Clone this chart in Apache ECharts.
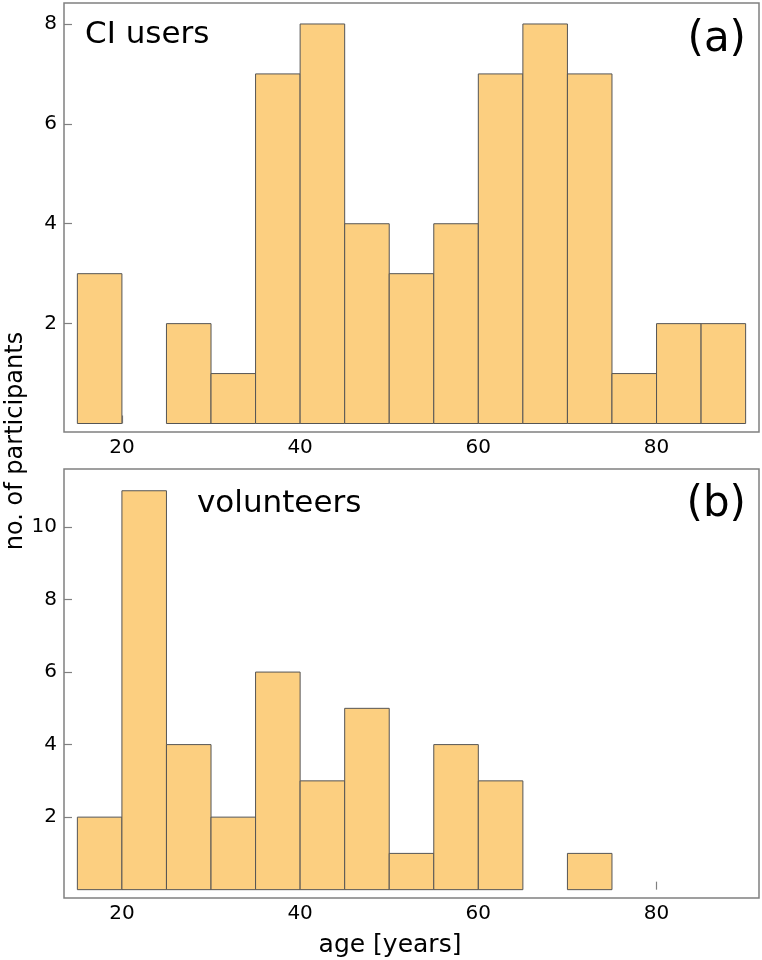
<!DOCTYPE html>
<html>
<head>
<meta charset="utf-8">
<script src="https://cdn.jsdelivr.net/npm/echarts@6/dist/echarts.min.js"></script>
<style>
  html, body { margin: 0; padding: 0; background: #fff; }
  #chart { width: 762px; height: 960px; }
</style>
</head>
<body>
<div id="chart"></div>
<script>
// bin edges (age, years)
const binEdges = [15, 20, 25, 30, 35, 40, 45, 50, 55, 60, 65, 70, 75, 80, 85, 90];
// counts per bin
const ciUsers = [3, 0, 2, 1, 7, 8, 4, 3, 4, 7, 8, 7, 1, 2, 2];
const volunteers = [2, 11, 4, 2, 6, 3, 5, 1, 4, 3, 0, 1, 0, 0, 0];
// tick labels
const xTicks = [20, 40, 60, 80];
const yTicksA = [2, 4, 6, 8];
const yTicksB = [2, 4, 6, 8, 10];

const FONT = 'DejaVu Sans';
const barFill = '#fccf80';
const barStroke = '#555555';
const frameColor = '#808080';

function toRows(counts) {
    const rows = [];
    counts.forEach((c, i) => {
        if (c > 0) rows.push([binEdges[i], binEdges[i + 1], c]);
    });
    return rows;
}

function renderItem(params, api) {
    const p0 = api.coord([api.value(0), 0]);
    const p1 = api.coord([api.value(1), api.value(2)]);
    return {
        type: 'rect',
        shape: { x: p0[0], y: p1[1], width: p1[0] - p0[0], height: p0[1] - p1[1] },
        style: { fill: barFill, stroke: barStroke, lineWidth: 1 }
    };
}

function xAxisFor(idx) {
    return {
        type: 'value', gridIndex: idx, min: 13.5, max: 91.5,
        axisLine: { show: false },
        splitLine: { show: false },
        axisTick: { inside: true, length: 8, customValues: xTicks, lineStyle: { color: frameColor, width: 1.2 } },
        axisLabel: { customValues: xTicks, margin: 6, fontFamily: FONT, fontSize: 20, color: '#000' }
    };
}

function yAxisFor(idx, min, max, ticks) {
    return {
        type: 'value', gridIndex: idx, min: min, max: max,
        axisLine: { show: false },
        splitLine: { show: false },
        axisTick: { inside: true, length: 8, customValues: ticks, lineStyle: { color: frameColor, width: 1.2 } },
        axisLabel: { customValues: ticks, margin: 7, fontFamily: FONT, fontSize: 20, color: '#000' }
    };
}

const chart = echarts.init(document.getElementById('chart'));
const option = {
    animation: false,
    grid: [
        { left: 64, top: 3, width: 695, height: 429, show: true, borderColor: frameColor, borderWidth: 1.5, backgroundColor: 'transparent' },
        { left: 64, top: 469, width: 695, height: 429, show: true, borderColor: frameColor, borderWidth: 1.5, backgroundColor: 'transparent' }
    ],
    xAxis: [xAxisFor(0), xAxisFor(1)],
    yAxis: [yAxisFor(0, -0.17, 8.42, yTicksA), yAxisFor(1, -0.23, 11.6, yTicksB)],
    series: [
        { name: 'CI users', type: 'custom', xAxisIndex: 0, yAxisIndex: 0, renderItem: renderItem, data: toRows(ciUsers) },
        { name: 'volunteers', type: 'custom', xAxisIndex: 1, yAxisIndex: 1, renderItem: renderItem, data: toRows(volunteers) }
    ],
    graphic: [
        { type: 'text', left: 85, top: 19, style: { text: 'CI users', font: '31px "DejaVu Sans"', fill: '#000' } },
        { type: 'text', right: 16, top: 19, style: { text: '(a)', font: '42px "DejaVu Sans"', fill: '#000' } },
        { type: 'text', left: 197, top: 488, style: { text: 'volunteers', font: '31px "DejaVu Sans"', fill: '#000' } },
        { type: 'text', right: 16, top: 484, style: { text: '(b)', font: '42px "DejaVu Sans"', fill: '#000' } },
        { type: 'text', x: 16, y: 441, rotation: Math.PI / 2, style: { text: 'no. of participants', font: '24px "DejaVu Sans"', fill: '#000', align: 'center', verticalAlign: 'middle' } },
        { type: 'text', x: 390, y: 945, style: { text: 'age [years]', font: '25px "DejaVu Sans"', fill: '#000', align: 'center', verticalAlign: 'middle' } }
    ]
};
chart.setOption(option);
window.addEventListener('resize', function () {
    chart.resize();
});
</script>
</body>
</html>
